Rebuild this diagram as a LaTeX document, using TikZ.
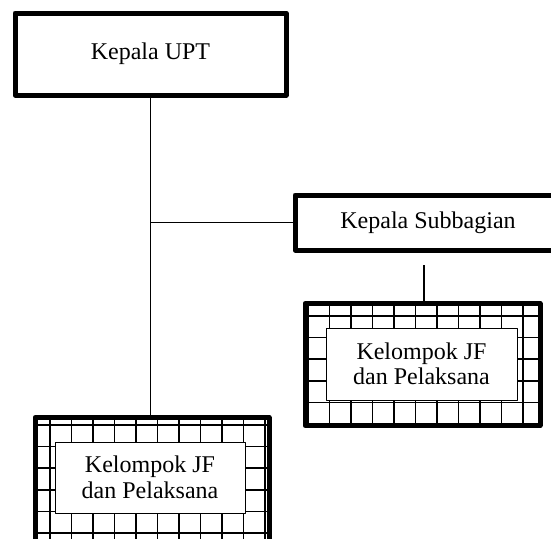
\documentclass[tikz,border=0pt]{standalone}
\usepackage{fontspec}
\setmainfont{Liberation Serif}
\usetikzlibrary{positioning,calc}
\tikzset{
  unit/.style={
    rectangle,draw=black,line width=5pt,line join=round,fill=white,outer sep=0pt,
    inner sep=0pt,align=center,font=\fontsize{24}{25.5}\selectfont
  },
  gridbox/.style={rectangle,draw=black,line width=5pt,line join=round,outer sep=0pt,inner sep=0pt},
  groupbox/.style={unit,line width=1pt},
  gridline/.style={line width=1.7pt,draw=black},
  link/.style={line width=1.8pt,draw=black}
}

\begin{document}
\begin{tikzpicture}[x=1pt,y=-1pt]
  \useasboundingbox (0,0) rectangle (551,538);
  \clip (0,0) rectangle (551,538);
  \node[unit,minimum width=271pt,minimum height=82pt] (upt) at (150.5,54) {Kepala UPT};
  \node[unit,minimum width=266pt,minimum height=55pt] (subbag) at (428,222.5) {Kepala Subbagian};
  \node[gridbox,minimum width=234pt,minimum height=142pt] (jfleft) at (152,488.5) {};
  \begin{scope}
    \clip (jfleft.south west) rectangle (jfleft.north east);
    \foreach \k in {-1,...,10}
      \draw[gridline] (50+21.5*\k,410) -- (50+21.5*\k,570);
    \foreach \k in {0,...,6}
      \draw[gridline] (30,425+21.6*\k) -- (280,425+21.6*\k);
  \end{scope}
  \node[groupbox,minimum width=190pt,minimum height=71pt] (jfleftin) at (150,477.5) {Kelompok JF\\dan Pelaksana};
  \node[gridbox,minimum width=235pt,minimum height=122pt] (jfright) at (422.5,364.5) {};
  \begin{scope}
    \clip (jfright.south west) rectangle (jfright.north east);
    \foreach \k in {0,...,10}
      \draw[gridline] (308+21.5*\k,295) -- (308+21.5*\k,435);
    \foreach \k in {0,...,4}
      \draw[gridline] (300,316+21.6*\k) -- (545,316+21.6*\k);
  \end{scope}
  \node[groupbox,minimum width=191pt,minimum height=72pt] (jfrightin) at (421.5,364) {Kelompok JF\\dan Pelaksana};
  \coordinate (tee) at (upt.south |- subbag.west);
  \coordinate (subdrop) at (424,265);
  \draw[link] (upt.south) -- (upt.south |- jfleft.north);
  \draw[link] (tee) -- (subbag.west);
  \draw[link] (subdrop) -- (subdrop |- jfright.north);
\end{tikzpicture}
\end{document}
